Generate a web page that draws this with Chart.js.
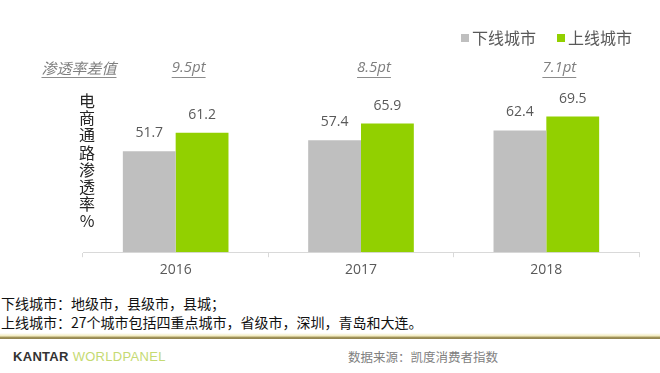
<!DOCTYPE html>
<html>
<head>
<meta charset="utf-8">
<script src="https://cdn.jsdelivr.net/npm/chart.js@4.4.1/dist/chart.umd.min.js"></script>
<style>
  body { margin: 0; background: #fff; font-family: "Noto Sans CJK SC", "Noto Sans", sans-serif; }
  #wrap { position: relative; width: 660px; height: 373px; overflow: hidden; }
  #chartBox { position: absolute; left: 0; top: 0; width: 660px; height: 292px; }
  .nota { position: absolute; left: 1px; font-size: 14px; color: #111; white-space: nowrap; line-height: 18px; }
  #linea { position: absolute; left: 0; top: 333px; width: 660px; height: 6px;
    background: linear-gradient(to bottom, rgba(240,230,170,0.0), rgba(235,225,160,0.7) 50%, #a3955a 70%, #8f8250 100%); }
  #logo { position: absolute; left: 13px; top: 349px; font-family: "Liberation Sans", sans-serif; font-size: 13px; line-height: 16px; letter-spacing: 0.3px; }
  #logo b { color: #333; }
  #logo span { color: #c5da72; }
  #fuente { position: absolute; left: 348px; top: 349px; font-size: 12.5px; color: #808080; line-height: 16px; }
</style>
</head>
<body>
<div id="wrap">
  <div id="chartBox"><canvas id="chartPenetracion"></canvas></div>
  <div class="nota" style="top:294px">下线城市：地级市，县级市，县城；</div>
  <div class="nota" style="top:313px">上线城市：27个城市包括四重点城市，省级市，深圳，青岛和大连。</div>
  <div id="linea"></div>
  <div id="logo"><b>KANTAR</b> <span>WORLDPANEL</span></div>
  <div id="fuente">数据来源：凯度消费者指数</div>
</div>
<script>
// --- DATOS ---
const anios = ['2016', '2017', '2018'];
const ciudadesBajas = [51.7, 57.4, 62.4];   // 下线城市
const ciudadesAltas = [61.2, 65.9, 69.5];   // 上线城市
const diferencias = ['9.5pt', '8.5pt', '7.1pt'];
const tituloDiferencia = '渗透率差值';
const tituloEjeY = '电商通路渗透率%';

const GRIS = '#bfbfbf';
const VERDE = '#92d000';
const TEXTO = '#595959';

// Etiquetas de valor encima de cada barra
const pluginEtiquetas = {
    id: 'etiquetas',
    afterDatasetsDraw(chart) {
        const ctx = chart.ctx;
        ctx.save();
        ctx.font = '14px "Open Sans", sans-serif';
        ctx.fillStyle = TEXTO;
        ctx.textAlign = 'center';
        ctx.textBaseline = 'middle';
        chart.data.datasets.forEach((ds, i) => {
            chart.getDatasetMeta(i).data.forEach((bar, j) => {
                ctx.fillText(ds.data[j].toFixed(1), bar.x, bar.y - 18);
            });
        });
        ctx.restore();
    }
};

// Leyenda, fila de diferencias y título vertical
const pluginAnotaciones = {
    id: 'anotaciones',
    afterDraw(chart) {
        const ctx = chart.ctx;
        const x = chart.scales.x;
        ctx.save();
        ctx.textBaseline = 'middle';

        // leyenda (arriba a la derecha)
        const posLeyenda = [461, 557];
        ctx.font = '16px "Noto Sans CJK SC", sans-serif';
        ctx.textAlign = 'left';
        chart.data.datasets.forEach((ds, i) => {
            ctx.fillStyle = ds.backgroundColor;
            ctx.fillRect(posLeyenda[i], 34, 8, 8);
            ctx.fillStyle = TEXTO;
            ctx.fillText(ds.label, posLeyenda[i] + 11, 38);
        });

        ctx.fillStyle = '#7f7f7f';
        ctx.strokeStyle = '#8c8c8c';
        ctx.lineWidth = 1;
        ctx.textAlign = 'center';
        const filaY = 68;
        ctx.font = 'italic 15px "Noto Sans CJK SC", sans-serif';
        const subrayar = (txt, cx) => {
            ctx.fillText(txt, cx, filaY);
            const w = ctx.measureText(txt).width;
            ctx.beginPath();
            ctx.moveTo(cx - w / 2, filaY + 9.5);
            ctx.lineTo(cx + w / 2, filaY + 9.5);
            ctx.stroke();
        };
        subrayar(tituloDiferencia, 79);
        ctx.font = 'italic 15px "Open Sans", sans-serif';
        diferencias.forEach((d, i) => subrayar(d, x.getPixelForValue(i) + 13));

        // título del eje Y, caracteres apilados
        ctx.fillStyle = '#262626';
        ctx.font = '16px "Noto Sans CJK SC", sans-serif';
        Array.from(tituloEjeY).forEach((c, i) => {
            ctx.fillText(c, 87, 101 + i * 17.2);
        });
        ctx.restore();
    }
};

new Chart(document.getElementById('chartPenetracion'), {
    type: 'bar',
    data: {
        labels: anios,
        datasets: [
            { label: '下线城市', data: ciudadesBajas, backgroundColor: GRIS },
            { label: '上线城市', data: ciudadesAltas, backgroundColor: VERDE }
        ]
    },
    options: {
        responsive: true,
        maintainAspectRatio: false,
        animation: false,
        layout: { padding: { left: 83, right: 21, top: 57, bottom: 10 } },
        datasets: { bar: { barPercentage: 1, categoryPercentage: 0.57 } },
        plugins: {
            legend: { display: false },
            tooltip: { enabled: false }
        },
        scales: {
            x: {
                grid: { drawOnChartArea: false, color: '#d9d9d9', tickLength: 5 },
                border: { color: '#d9d9d9' },
                ticks: { color: TEXTO, font: { size: 14, family: '"Open Sans", sans-serif' }, padding: 4 }
            },
            y: { display: false, min: 0, max: 100 }
        }
    },
    plugins: [pluginEtiquetas, pluginAnotaciones]
});
</script>
</body>
</html>
